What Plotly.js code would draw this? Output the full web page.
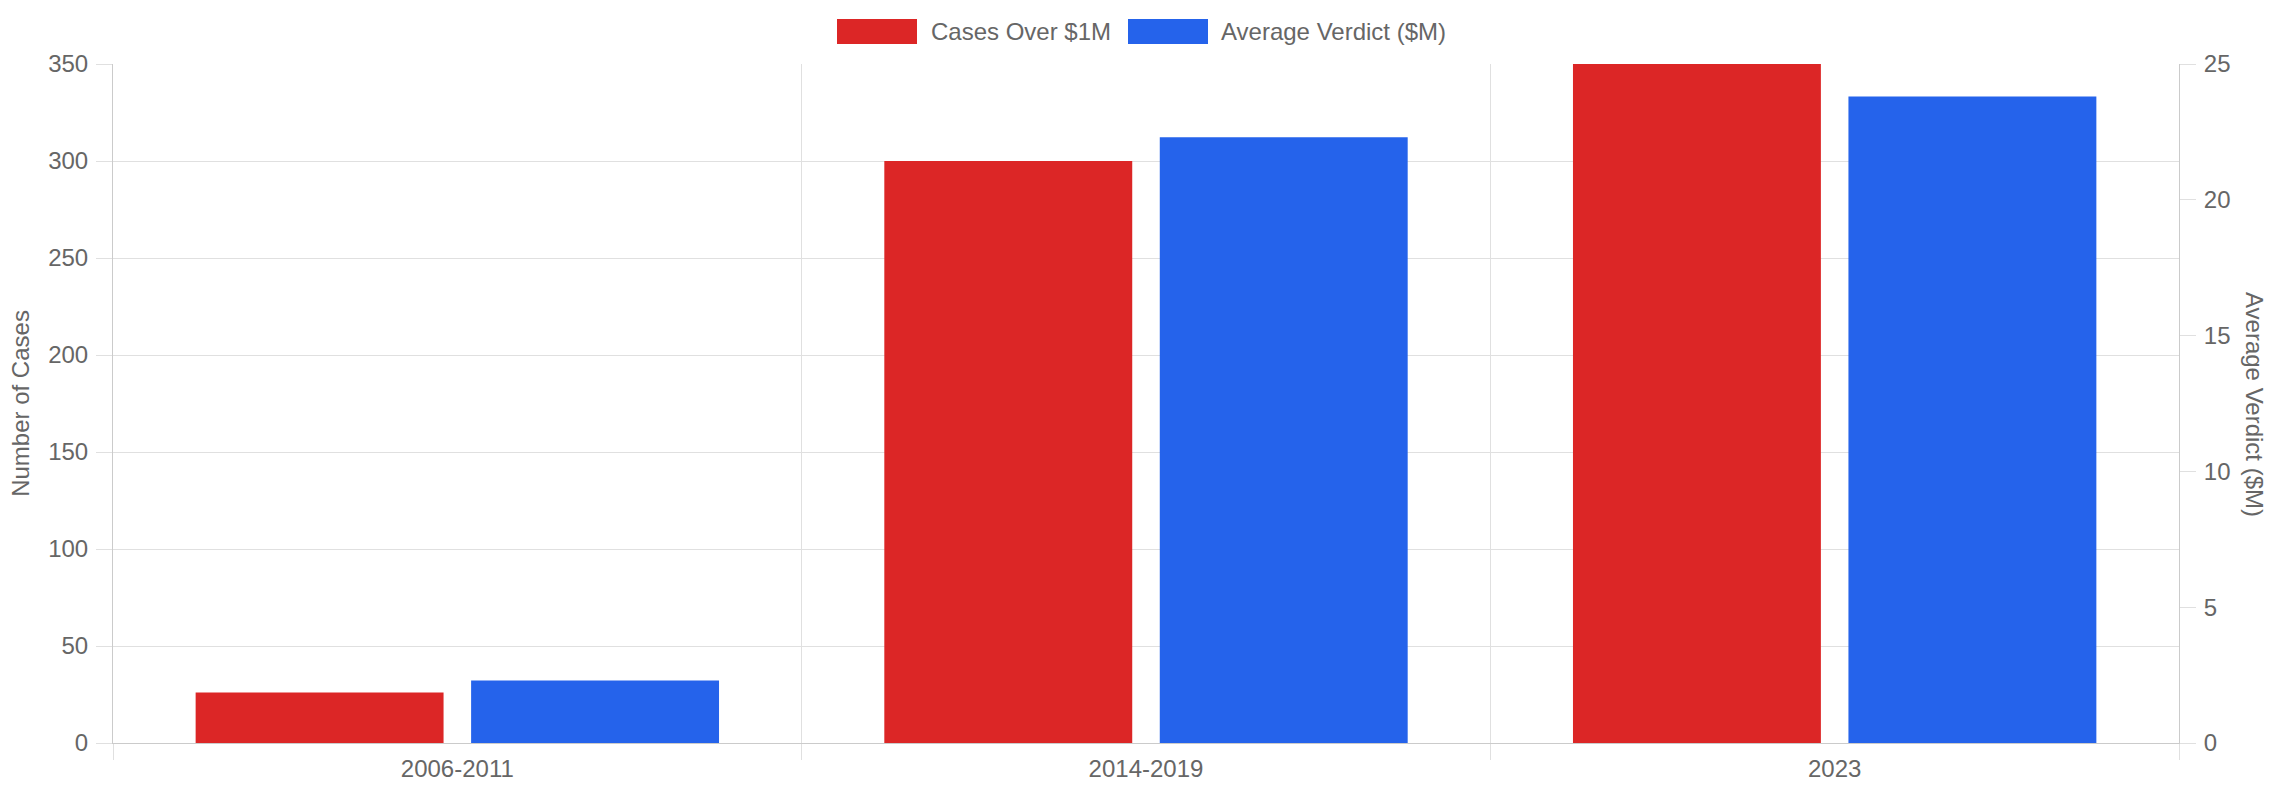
<!DOCTYPE html>
<html>
<head>
<meta charset="utf-8">
<script src="https://cdn.plot.ly/plotly-3.0.1.min.js"></script>
<style>
  html, body { margin: 0; padding: 0; background: #ffffff; }
  #chart { width: 2278px; height: 800px; }
</style>
</head>
<body>
<div id="chart"></div>
<script>
// ---- data ----
const categories = ['2006-2011', '2014-2019', '2023'];
const casesOver1M = [26, 300, 350];
const avgVerdict = [2.3, 22.3, 23.8];
const seriesNames = ['Cases Over $1M', 'Average Verdict ($M)'];
const leftTitle = 'Number of Cases';
const rightTitle = 'Average Verdict ($M)';

// ---- styling ----
const W = 2278, H = 800;
const M = { l: 113, r: 99, t: 64, b: 57 };
const PW = W - M.l - M.r, PH = H - M.t - M.b;
const FONT = '"Liberation Sans", Arial, Helvetica, sans-serif';
const TXT = '#666666';
const GRID = '#e0e0e0';
const AXIS = '#cbcbcb';
const RED = '#dc2626', BLUE = '#2563eb';
const px2x = p => (p - M.l) / PW;
const py2y = p => 1 - (p - M.t) / PH;

const traces = [
  { type: 'bar', x: categories, y: casesOver1M, name: seriesNames[0], yaxis: 'y',
    offsetgroup: 'a', marker: { color: RED, line: { width: 0 } }, showlegend: false },
  { type: 'bar', x: categories, y: avgVerdict, name: seriesNames[1], yaxis: 'y2',
    offsetgroup: 'b', marker: { color: BLUE, line: { width: 0 } }, showlegend: false }
];

// legend built from swatch shapes + text
const legendItems = [
  { box: [837, 917], text: 930, color: RED, label: seriesNames[0] },
  { box: [1128, 1208], text: 1220, color: BLUE, label: seriesNames[1] }
];
const shapes = legendItems.map(it => ({
  type: 'rect', xref: 'paper', yref: 'paper',
  x0: px2x(it.box[0]), x1: px2x(it.box[1]), y0: py2y(44), y1: py2y(19),
  fillcolor: it.color, line: { width: 0 }, layer: 'above'
}));
const annotations = legendItems.map(it => ({
  xref: 'paper', yref: 'paper', x: px2x(it.text), y: py2y(32),
  xanchor: 'left', yanchor: 'middle', text: it.label, showarrow: false,
  borderpad: 0, font: { family: FONT, size: 24, color: TXT }
}));
annotations.push({
  xref: 'paper', yref: 'paper', x: px2x(2255), y: py2y(404),
  xanchor: 'center', yanchor: 'middle', text: rightTitle, textangle: 90,
  showarrow: false, borderpad: 0, font: { family: FONT, size: 24, color: TXT }
});

const layout = {
  width: W, height: H,
  margin: M,
  paper_bgcolor: '#ffffff', plot_bgcolor: '#ffffff',
  font: { family: FONT, size: 24, color: TXT },
  barmode: 'group', bargap: 0.2, bargroupgap: 0.1,
  showlegend: false,
  xaxis: {
    type: 'category', tickson: 'boundaries', ticks: 'outside', ticklen: 16,
    tickcolor: GRID, tickwidth: 1, showgrid: true, gridcolor: GRID, gridwidth: 1,
    showline: true, linecolor: AXIS, linewidth: 1, zeroline: false,
    tickfont: { family: FONT, size: 24, color: TXT }, ticklabelstandoff: 4,
    automargin: false
  },
  yaxis: {
    range: [0, 350], dtick: 50, tick0: 0, ticks: 'outside', ticklen: 16,
    tickcolor: GRID, tickwidth: 1, showgrid: true, gridcolor: GRID, gridwidth: 1,
    showline: true, linecolor: AXIS, linewidth: 1, zeroline: false,
    tickfont: { family: FONT, size: 24, color: TXT }, ticklabelstandoff: 3,
    title: { text: leftTitle, font: { family: FONT, size: 24, color: TXT }, standoff: 11 },
    automargin: false
  },
  yaxis2: {
    overlaying: 'y', side: 'right', range: [0, 25], dtick: 5, tick0: 0,
    ticks: 'outside', ticklen: 16, tickcolor: GRID, tickwidth: 1,
    showgrid: false, showline: true, linecolor: AXIS, linewidth: 1, zeroline: false,
    tickfont: { family: FONT, size: 24, color: TXT }, ticklabelstandoff: 3,
    automargin: false
  },
  shapes: shapes,
  annotations: annotations
};

Plotly.newPlot('chart', traces, layout, { displayModeBar: false, staticPlot: true });
</script>
</body>
</html>
